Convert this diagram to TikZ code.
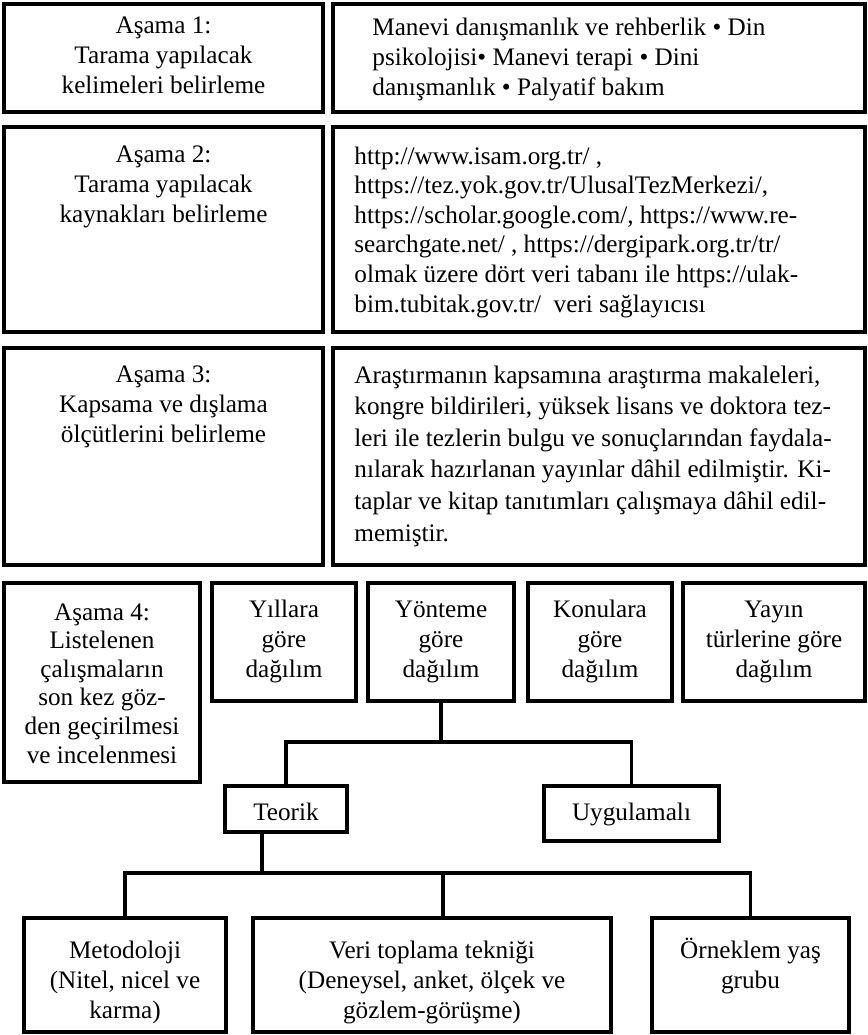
\documentclass[tikz,border=0pt]{standalone}
\usepackage{fontspec}
\setmainfont{Liberation Serif}
\usetikzlibrary{fit}

\begin{document}
\begin{tikzpicture}[x=0.5pt, y=-0.5pt,
    kutu/.style={draw, line width=1.6pt, inner sep=0pt},
    metin/.style={inner sep=0pt, font=\fontsize{12.6}{15}\selectfont},
    baglanti/.style={line width=1.6pt}]
    \useasboundingbox (0,0) rectangle (868,1035);

    % Aşama 1
    \node[kutu, fit={(4,4) (323,112)}] (a1) {};
    \node[kutu, fit={(333,4) (865,112)}] (k1) {};
    \node[metin, align=center, anchor=base] (a1m) at (163.5,93) {Aşama 1:\\Tarama yapılacak\\kelimeleri belirleme};
    \node[metin, align=left, anchor=base west] (k1m) at (372,95) {Manevi danışmanlık ve rehberlik • Din\\psikolojisi• Manevi terapi • Dini\\danışmanlık • Palyatif bakım};

    % Aşama 2
    \node[kutu, fit={(4,127) (323,332)}] (a2) {};
    \node[kutu, fit={(333,127) (865,332)}] (k2) {};
    \node[metin, align=center, anchor=base] (a2m) at (163.5,222) {Aşama 2:\\Tarama yapılacak\\kaynakları belirleme};
    \node[metin, align=left, anchor=base west, font=\fontsize{12.6}{14.8}\selectfont] (k2m) at (354,312) {http://www.isam.org.tr/ ,\\https://tez.yok.gov.tr/UlusalTezMerkezi/,\\https://scholar.google.com/, https://www.re-\\searchgate.net/ , https://dergipark.org.tr/tr/\\olmak üzere dört veri tabanı ile https://ulak-\\bim.tubitak.gov.tr/~ veri sağlayıcısı};

    % Aşama 3
    \node[kutu, fit={(4,348) (323,565)}] (a3) {};
    \node[kutu, fit={(333,348) (865,565)}] (k3) {};
    \node[metin, align=center, anchor=base] (a3m) at (163.5,442) {Aşama 3:\\Kapsama ve dışlama\\ölçütlerini belirleme};
    \node[metin, align=left, anchor=base west, font=\fontsize{12.6}{15.8}\selectfont] (k3m) at (354,541) {Araştırmanın kapsamına araştırma makaleleri,\\kongre bildirileri, yüksek lisans ve doktora tez-\\leri ile tezlerin bulgu ve sonuçlarından faydala-\\nılarak hazırlanan yayınlar dâhil edilmiştir. Ki-\\taplar ve kitap tanıtımları çalışmaya dâhil edil-\\memiştir.};

    % Aşama 4 ve dağılımlar
    \node[kutu, fit={(4,583) (200,782)}] (a4) {};
    \node[kutu, fit={(212,583) (356,701)}] (yillar) {};
    \node[kutu, fit={(368,583) (514,701)}] (yontem) {};
    \node[kutu, fit={(528,583) (672,701)}] (konu) {};
    \node[kutu, fit={(683,583) (865,701)}] (yayin) {};
    \node[metin, align=center, anchor=base, font=\fontsize{12.6}{14.3}\selectfont] (a4m) at (102,763) {Aşama 4:\\Listelenen\\çalışmaların\\son kez göz-\\den geçirilmesi\\ve incelenmesi};
    \node[metin, align=center, anchor=base] (yillarm) at (284,677) {Yıllara\\göre\\dağılım};
    \node[metin, align=center, anchor=base] (yontemm) at (441,677) {Yönteme\\göre\\dağılım};
    \node[metin, align=center, anchor=base] (konum) at (600,677) {Konulara\\göre\\dağılım};
    \node[metin, align=center, anchor=base] (yayinm) at (774,677) {Yayın\\türlerine göre\\dağılım};

    % Yöntem dalları
    \node[kutu, fit={(225,786) (347,832)}] (teorik) {};
    \node[kutu, fit={(544,786) (719,841)}] (uygulama) {};
    \node[metin, anchor=base] (teorikm) at (286,820) {Teorik};
    \node[metin, anchor=base] (uygulamam) at (631.5,820) {Uygulamalı};
    \coordinate (y1) at (441,742);
    \draw[baglanti] (yontem.south) -- (y1);
    \draw[baglanti] (teorik.north) |- (y1);
    \draw[baglanti] (uygulama.north) |- (y1);

    % Teorik alt başlıklar
    \node[kutu, fit={(24,918) (226,1032)}] (metod) {};
    \node[kutu, fit={(253,918) (611,1032)}] (veri) {};
    \node[kutu, fit={(652,918) (849,1032)}] (orneklem) {};
    \node[metin, align=center, anchor=base] (metodm) at (125,1018) {Metodoloji\\(Nitel, nicel ve\\karma)};
    \node[metin, align=center, anchor=base] (verim) at (432,1018) {Veri toplama tekniği\\(Deneysel, anket, ölçek ve\\gözlem-görüşme)};
    \node[metin, align=center, anchor=base] (orneklemm) at (750.5,988) {Örneklem yaş\\grubu};
    \coordinate (t1) at (262,873);
    \draw[baglanti] ([xshift=-12pt]teorik.south) -- (t1);
    \draw[baglanti] (metod.north) |- (t1);
    \draw[baglanti] (orneklem.north) |- (t1);
    \draw[baglanti] ([xshift=5.5pt]veri.north) -- ([xshift=5.5pt]veri.north |- t1);
\end{tikzpicture}
\end{document}
